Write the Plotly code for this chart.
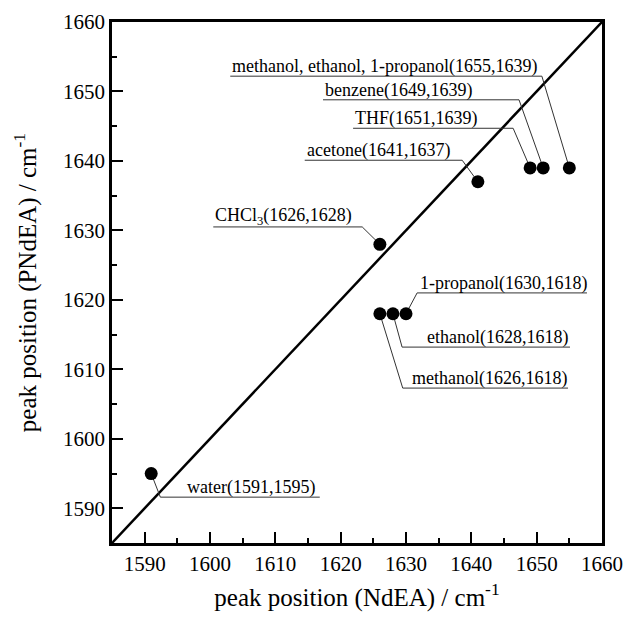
import plotly.graph_objects as go

# ---- data ----
names = ["water", "CHCl<sub>3</sub>", "acetone", "THF", "benzene",
         "methanol, ethanol, 1-propanol", "1-propanol", "ethanol", "methanol"]
ndea = [1591, 1626, 1641, 1651, 1649, 1655, 1630, 1628, 1626]
pndea = [1595, 1628, 1637, 1639, 1639, 1639, 1618, 1618, 1618]
axis_range = [1585, 1660]
tick_vals = [1590, 1600, 1610, 1620, 1630, 1640, 1650, 1660]

# ---- label layout (data units): text left, underline x0/x1, underline y, leader end, target index ----
text_x = [1596.2, 1600.5, 1614.5, 1621.9, 1617.3, 1603.1, 1631.8, 1632.9, 1630.6]
ul_x0 = [1592.4, 1600.5, 1614.5, 1621.9, 1617.3, 1603.1, 1631.7, 1629.4, 1629.5]
ul_x1 = [1616.8, 1623.3, 1638.6, 1646.4, 1647.3, 1650.8, 1657.7, 1655.1, 1654.8]
ul_y = [1591.6, 1630.5, 1640.1, 1644.7, 1648.8, 1652.2, 1621.0, 1613.2, 1607.3]
leader_end = ["left", "right", "right", "right", "right", "right", "left", "left", "left"]
target = [0, 1, 2, 4, 3, 5, 6, 7, 8]

FONT = "Liberation Serif"

fig = go.Figure()

# diagonal y = x
fig.add_trace(go.Scatter(x=axis_range, y=axis_range, mode="lines",
                         line=dict(color="black", width=2.5), hoverinfo="skip"))

# leader lines + underlines
lx, ly = [], []
for i in range(len(names)):
    t = target[i]
    if leader_end[i] == "right":
        lx += [ul_x0[i], ul_x1[i], ndea[t], None]
        ly += [ul_y[i], ul_y[i], pndea[t], None]
    else:
        lx += [ul_x1[i], ul_x0[i], ndea[t], None]
        ly += [ul_y[i], ul_y[i], pndea[t], None]
fig.add_trace(go.Scatter(x=lx, y=ly, mode="lines",
                         line=dict(color="#333333", width=1), hoverinfo="skip"))

# points
fig.add_trace(go.Scatter(x=ndea, y=pndea, mode="markers",
                         marker=dict(color="black", size=13)))

for i in range(len(names)):
    fig.add_annotation(x=text_x[i], y=ul_y[i], xref="x", yref="y",
                       text=f"{names[i]}({ndea[i]},{pndea[i]})",
                       showarrow=False, xanchor="left", yanchor="bottom",
                       yshift=-3, font=dict(family=FONT, size=18, color="black"))

axis_common = dict(range=axis_range, tickvals=tick_vals, ticks="inside", ticklen=11,
                   tickwidth=2, tickcolor="black", showline=True, linewidth=2.5,
                   linecolor="black", mirror=True, showgrid=False, zeroline=False,
                   tickfont=dict(family=FONT, size=21, color="black"),
                   minor=dict(ticks="inside", ticklen=5, tickwidth=2, dtick=5,
                              tick0=1585, tickcolor="black", showgrid=False))

fig.update_xaxes(**axis_common,
                 title=dict(text="peak position (NdEA) / cm<sup>-1</sup>",
                            font=dict(family=FONT, size=25, color="black"), standoff=14))
fig.update_yaxes(**axis_common,
                 title=dict(text="peak position (PNdEA) / cm<sup>-1</sup>",
                            font=dict(family=FONT, size=25, color="black"), standoff=20))

fig.update_layout(width=625, height=619, showlegend=False,
                  font=dict(family=FONT),
                  margin=dict(l=112, r=23, t=22, b=76, autoexpand=False),
                  plot_bgcolor="white", paper_bgcolor="white")

fig.write_html("out.html", config={"displayModeBar": False},
               post_script="document.body.style.margin='0';document.body.style.padding='0';")
